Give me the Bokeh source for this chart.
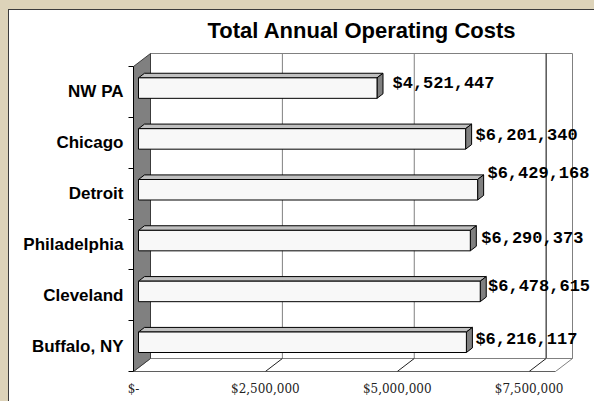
from bokeh.plotting import figure
from bokeh.models import Range1d, FixedTicker, NumeralTickFormatter, ColumnDataSource
from bokeh.core.properties import value
from bokeh.embed import file_html
from bokeh.resources import INLINE

# ---------------- data ----------------
categories = ["Buffalo, NY", "Cleveland", "Philadelphia", "Detroit", "Chicago", "NW PA"]
costs = [6216117, 6478615, 6290373, 6429168, 6201340, 4521447]
x_ticks = [0, 2500000, 5000000, 7500000]
x_max = 8000000
title_text = "Total Annual Operating Costs"

# ---------------- style ----------------
W, H = 585, 391
ML, MR, MT, MB = 124, 4, 36, 30
FW, FH = W - ML - MR, H - MT - MB
EXTRA_TOP_PX = 7               # empty space in the frame above the back wall
FRONT_W_PX = 422               # pixels spanned by 0..x_max on the front plane
DEPTH_PX = (17, 13)            # 3-D depth of the walls, in pixels
BAR_D0, BAR_D1 = 5 / 17, 11 / 17  # bar depth slice (fraction of wall depth)
BAR_H_PX = 20.5
LABEL_DX = [3.0, 1.8, 5.0, 3.8, 4.0, 9.5]      # label nudges (px)
LABEL_DY = [-3.0, -5.0, -2.0, -16.0, -3.4, -4.5]

n = len(categories)
x_per_px = x_max / FRONT_W_PX
y_per_px = n / (FH - DEPTH_PX[1] - EXTRA_TOP_PX)
dx = DEPTH_PX[0] * x_per_px
dy = DEPTH_PX[1] * y_per_px

p = figure(width=W, height=H, output_backend="svg", toolbar_location=None,
           x_range=Range1d(0, FW * x_per_px),
           y_range=Range1d(0, n + dy + EXTRA_TOP_PX * y_per_px),
           min_border_left=ML, min_border_right=MR, min_border_top=MT, min_border_bottom=MB)
p.border_fill_color = "white"
p.background_fill_color = "white"
p.outline_line_color = None
p.xgrid.visible = False
p.ygrid.visible = False
p.styles = {"margin-left": "9px", "margin-top": "10px",
            "box-shadow": "0 0 0 1px #3c3c3c, 0 0 0 20px #ddd3b9"}

# title
p.title.text = title_text
p.title.text_font = "Liberation Sans"
p.title.text_font_style = "bold"
p.title.text_font_size = "22px"
p.title.align = "left"
p.title.offset = 74
p.title.standoff = 8
p.title.text_color = "black"

# back wall
p.quad(left=[dx], right=[x_max + dx], bottom=[dy], top=[n + dy],
       fill_color="white", line_color="#808080", line_width=1)
# gridlines on back wall
grid_vals = x_ticks[1:]
grid_cols = ["#808080", "#808080", "#000000"]
p.segment(x0=[v + dx for v in grid_vals], y0=[dy] * len(grid_vals),
          x1=[v + dx for v in grid_vals], y1=[n + dy] * len(grid_vals),
          line_color=grid_cols, line_width=1)
# floor
p.patch(x=[0, x_max, x_max + dx, dx], y=[0, 0, dy, dy],
        fill_color="white", line_color="#808080", line_width=1)
p.segment(x0=[0], y0=[0], x1=[x_max], y1=[0], line_color="black", line_width=1)
# floor gridlines
p.segment(x0=grid_vals, y0=[0] * len(grid_vals),
          x1=[v + dx for v in grid_vals], y1=[dy] * len(grid_vals),
          line_color="#202020", line_width=1)
# left wall
p.patch(x=[0, dx, dx, 0], y=[0, dy, n + dy, n],
        fill_color="#808080", line_color="#3c3c3c", line_width=1)

# bars
bh = BAR_H_PX * y_per_px
bdx = (BAR_D1 - BAR_D0) * dx
bdy = (BAR_D1 - BAR_D0) * dy
x0 = BAR_D0 * dx
y0 = BAR_D0 * dy
centers = [i + 0.5 for i in range(n)]
lefts = [x0] * n
rights = [v + x0 for v in costs]
bottoms = [c - bh / 2 + y0 for c in centers]
tops = [c + bh / 2 + y0 for c in centers]

top_xs = [[l, r, r + bdx, l + bdx] for l, r in zip(lefts, rights)]
top_ys = [[t, t, t + bdy, t + bdy] for t in tops]
p.patches(xs=top_xs, ys=top_ys, fill_color="#c0c0c0", line_color="black", line_width=1)
side_xs = [[r, r + bdx, r + bdx, r] for r in rights]
side_ys = [[b, b + bdy, t + bdy, t] for b, t in zip(bottoms, tops)]
p.patches(xs=side_xs, ys=side_ys, fill_color="#808080", line_color="black", line_width=1)
p.quad(left=lefts, right=rights, bottom=bottoms, top=tops,
       fill_color="#f8f8f8", line_color="black", line_width=1)

# value labels
src = ColumnDataSource(dict(
    x=[r + bdx for r in rights],
    y=[c + y0 for c in centers],
    text=["${:,}".format(v) for v in costs],
    xo=LABEL_DX, yo=LABEL_DY))
p.text(x="x", y="y", text="text", x_offset="xo", y_offset="yo", source=src,
       text_font=value("Liberation Mono"), text_font_style="bold",
       text_font_size="17px", text_align="left", text_baseline="middle",
       text_color="black")

# x axis
xa = p.xaxis[0]
xa.ticker = FixedTicker(ticks=x_ticks)
xa.formatter = NumeralTickFormatter(format="$0,0")
xa.major_label_overrides = {0: "$-"}
xa.bounds = (0, x_max)
xa.axis_line_color = None
xa.major_tick_out = 0
xa.major_tick_in = 0
xa.minor_tick_out = 0
xa.minor_tick_in = 0
xa.major_label_standoff = 10
xa.major_label_text_font = "DejaVu Serif"
xa.major_label_text_font_size = "12px"
xa.major_label_text_color = "#222222"

# y axis
ya = p.yaxis[0]
ya.ticker = FixedTicker(ticks=centers, minor_ticks=list(range(n + 1)))
ya.major_label_overrides = {c: name for c, name in zip(centers, categories)}
ya.bounds = (0, n)
ya.axis_line_color = "black"
ya.major_tick_out = 0
ya.major_tick_in = 0
ya.minor_tick_out = 5
ya.minor_tick_in = 0
ya.minor_tick_line_color = "black"
ya.major_label_standoff = 5
ya.major_label_text_font = "Liberation Sans"
ya.major_label_text_font_style = "bold"
ya.major_label_text_font_size = "17px"
ya.major_label_text_color = "black"

open("out.html", "w").write(file_html(p, INLINE))
